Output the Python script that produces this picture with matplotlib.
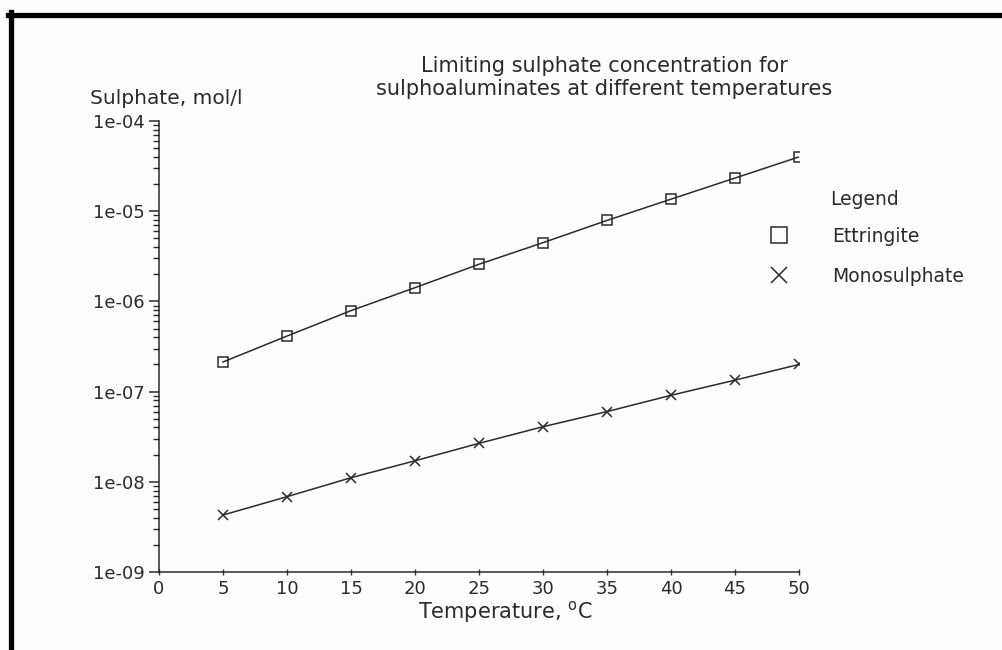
import matplotlib
matplotlib.use("Agg")
import matplotlib.pyplot as plt
from matplotlib.lines import Line2D
from matplotlib.ticker import FixedLocator, LogLocator, NullFormatter

# ---- data ----
temperature = [5, 10, 15, 20, 25, 30, 35, 40, 45, 50]
ettringite = [2.13e-7, 4.13e-7, 7.9e-7, 1.42e-6, 2.58e-6, 4.48e-6, 7.9e-6, 1.36e-5, 2.33e-5, 4.0e-5]
monosulphate = [4.28e-9, 6.84e-9, 1.11e-8, 1.71e-8, 2.67e-8, 4.08e-8, 6.0e-8, 9.1e-8, 1.34e-7, 2.0e-7]
x_ticks = [0, 5, 10, 15, 20, 25, 30, 35, 40, 45, 50]
y_ticks = [1e-9, 1e-8, 1e-7, 1e-6, 1e-5, 1e-4]
y_tick_labels = ["1e-09", "1e-08", "1e-07", "1e-06", "1e-05", "1e-04"]
series_labels = ["Ettringite", "Monosulphate"]

INK = "#2a2a2a"
plt.rcParams["font.family"] = ["DejaVu Sans"]
plt.rcParams["text.color"] = INK

W, H = 1002, 650
fig = plt.figure(figsize=(W / 100, H / 100), dpi=100, facecolor="#fdfdfd")
ax = fig.add_axes([159 / W, 1 - 572 / H, (799 - 159) / W, (572 - 121) / H])
ax.set_facecolor("#fdfdfd")

ax.plot(temperature, ettringite, color=INK, lw=1.1, marker="s", ms=7.5,
        mfc="none", mec=INK, mew=1.1)
ax.plot(temperature, monosulphate, color=INK, lw=1.1, marker="x", ms=7.5,
        mec=INK, mew=1.1)

ax.set_yscale("log")
ax.set_ylim(1e-9, 1e-4)
ax.set_xlim(0, 50)
ax.set_xticks(x_ticks)
ax.set_xticklabels([str(t) for t in x_ticks], fontsize=13, color=INK)
ax.yaxis.set_major_locator(FixedLocator(y_ticks))
ax.set_yticklabels(y_tick_labels, fontsize=13, color=INK)
ax.yaxis.set_minor_locator(LogLocator(base=10, subs=range(2, 10), numticks=20))
ax.yaxis.set_minor_formatter(NullFormatter())

for s in ["top", "right"]:
    ax.spines[s].set_visible(False)
for s in ["left", "bottom"]:
    ax.spines[s].set_color(INK)
    ax.spines[s].set_linewidth(1.1)

ax.tick_params(axis="y", which="major", direction="out", length=7, width=1.1,
               color=INK, pad=3)
ax.tick_params(axis="y", which="minor", direction="out", length=4, width=1.0,
               color=INK)
ax.tick_params(axis="x", which="major", direction="inout", length=5, width=1.0,
               color=INK, pad=3)

ax.set_xlabel("Temperature, $^{\\mathrm{o}}$C", fontsize=15, color=INK, labelpad=0)
ax.xaxis.set_label_coords((505 - 159) / 640, -0.06)

# titles / y label
fig.text(604 / W, 1 - 66 / H, "Limiting sulphate concentration for",
         ha="center", va="center", fontsize=15)
fig.text(604 / W, 1 - 89 / H, "sulphoaluminates at different temperatures",
         ha="center", va="center", fontsize=15)
fig.text(90 / W, 1 - 98 / H, "Sulphate, mol/l", ha="left", va="center",
         fontsize=14.5)

# legend
fig.text(830 / W, 1 - 199 / H, "Legend", ha="left", va="center", fontsize=13.5)
handles = [
    Line2D([], [], ls="none", marker="s", ms=12, mfc="none", mec=INK, mew=1.1),
    Line2D([], [], ls="none", marker="x", ms=12, mec=INK, mew=1.1),
]
ax.legend(handles, series_labels, loc="upper left",
          bbox_to_anchor=(760 / W, 1 - 227 / H), bbox_transform=fig.transFigure,
          frameon=False, fontsize=13.5, handlelength=2.0, handletextpad=1.85,
          labelspacing=1.12, borderpad=0, borderaxespad=0)

# scanned frame (top and left edges)
fig.add_artist(Line2D([8 / W, 1.0], [1 - 14.5 / H, 1 - 14.5 / H],
                      transform=fig.transFigure, color="black", lw=3.8))
fig.add_artist(Line2D([10.5 / W, 10.5 / W], [0, 1 - 12 / H],
                      transform=fig.transFigure, color="black", lw=3.8))

fig.savefig("out.png", dpi=100, facecolor=fig.get_facecolor())
